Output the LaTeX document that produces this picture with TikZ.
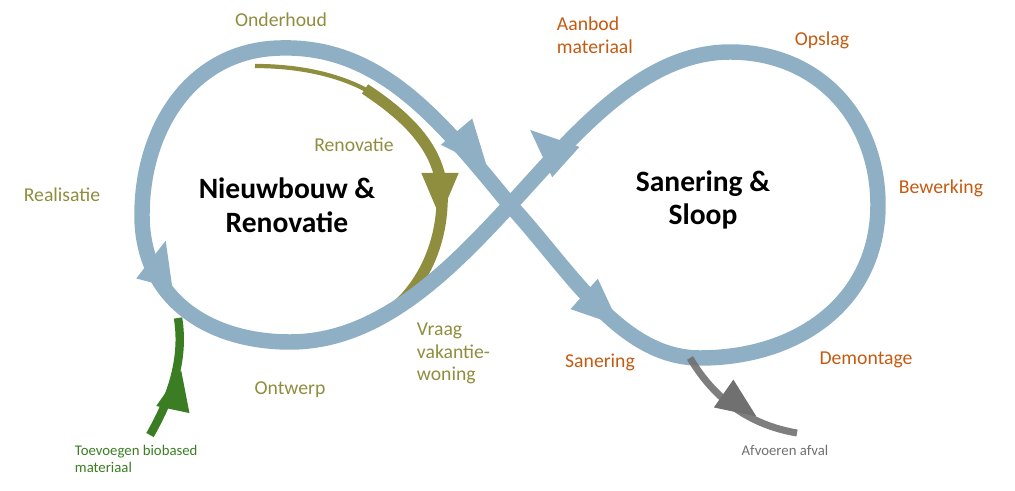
\documentclass[tikz,border=0pt]{standalone}
\usepackage{fontspec}
\setmainfont{Carlito}
\usetikzlibrary{calc}
\definecolor{loopblue}{RGB}{143,176,196}
\definecolor{olijf}{RGB}{143,141,62}
\definecolor{oranje}{RGB}{197,90,17}
\definecolor{groen}{RGB}{58,125,34}
\definecolor{grijs}{RGB}{112,112,112}
\tikzset{
  lbl/.style={font=\fontsize{14}{16}\selectfont,align=left},
  main/.style={font=\fontsize{21}{24}\selectfont\bfseries,align=center},
}
\newcommand{\tip}[4]{\fill[#3,shift={(#1)},rotate=-#2] (#4,0) -- (-#4,0.85*#4) -- (-#4,-0.85*#4) -- cycle;}
\begin{document}
\begin{tikzpicture}[x=0.025cm,y=-0.025cm]
        \useasboundingbox (0,0) rectangle (1015,491);
        \coordinate (c) at (510,205);
        % olijf binnenboog
        \draw[olijf,line width=3pt] (255,66) .. controls (300,66) and (340,75) .. (370,92);
        \draw[olijf,line width=8pt] (365,89) .. controls (420,125) and (445,160) .. (442,205) .. controls (440,250) and (420,285) .. (398,305);
        % lus
        \draw[loopblue,line width=11pt] (c) .. controls (440,120) and (380,45) .. (280,48) .. controls (190,50) and (142,130) .. (142,215) .. controls (142,300) and (210,342) .. (290,342) .. controls (380,342) and (450,270) .. (c) .. controls (570,140) and (640,52) .. (730,52) .. controls (820,52) and (878,120) .. (878,205) .. controls (878,300) and (800,358) .. (700,358) .. controls (620,358) and (570,270) .. (c);
        % groen en grijs
        \draw[groen,line width=6pt] (150,435) .. controls (170,400) and (185,360) .. (178,318);
        \draw[grijs,line width=5pt,opacity=0.9] (690,358) .. controls (715,400) and (750,425) .. (797,433);
        % pijlpunten
        \tip{472,150}{50}{loopblue}{24}
        \tip{548,146}{222}{loopblue}{24}
        \tip{602,310}{42}{loopblue}{24}
        \tip{160,262}{-75}{loopblue}{22}
        \tip{440,195}{90}{olijf}{22}
        \tip{177,390}{-78}{groen}{20}
        \tip{740,405}{35}{grijs}{20}
        % teksten
        \node[main] (nr) at (287,205) {Nieuwbouw \&\\Renovatie};
        \node[main] (ss) at (703,200) {Sanering \&\\Sloop};
        \node[lbl,olijf] (ond) at (281,20) {Onderhoud};
        \node[lbl,olijf] (ren) at (354,145) {Renovatie};
        \node[lbl,olijf] (rea) at (62,195) {Realisatie};
        \node[lbl,olijf] (ont) at (290,390) {Ontwerp};
        \node[lbl,olijf,anchor=north west] (vra) at (412,318) {Vraag\\vakantie-\\woning};
        \node[lbl,oranje,anchor=north west] (aan) at (552,12) {Aanbod\\materiaal};
        \node[lbl,oranje] (ops) at (822,40) {Opslag};
        \node[lbl,oranje] (bew) at (941,188) {Bewerking};
        \node[lbl,oranje] (dem) at (866,360) {Demontage};
        \node[lbl,oranje] (san) at (600,362) {Sanering};
        \node[font=\fontsize{10.5}{12}\selectfont,align=left,groen,anchor=north west] (toe) at (70,440) {Toevoegen biobased\\materiaal};
        \node[font=\fontsize{10.5}{12}\selectfont,grijs] (afv) at (785,450) {Afvoeren afval};
\end{tikzpicture}
\end{document}
